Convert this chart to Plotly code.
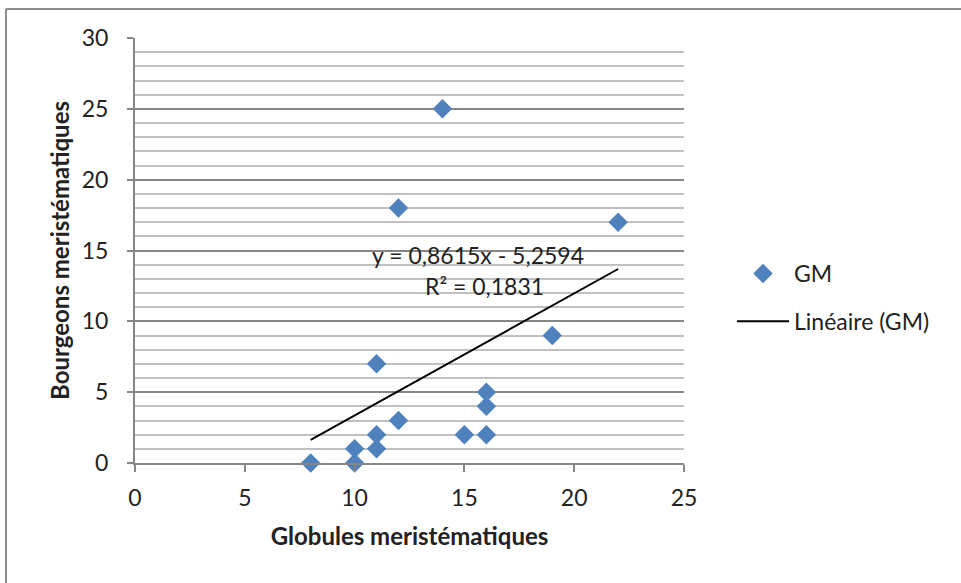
import numpy as np
import plotly.graph_objects as go

# Data
globules = [8, 10, 10, 11, 11, 11, 12, 12, 14, 15, 16, 16, 16, 19, 22]
bourgeons = [0, 0, 1, 1, 2, 7, 3, 18, 25, 2, 2, 4, 5, 9, 17]
x_ticks = [0, 5, 10, 15, 20, 25]
y_ticks = [0, 5, 10, 15, 20, 25, 30]
eq_text = "y = 0,8615x - 5,2594"
r2_text = "R² = 0,1831"

slope, intercept = np.polyfit(globules, bourgeons, 1)
tx = [min(globules), max(globules)]
ty = [slope * v + intercept for v in tx]

FONT = "Lato, 'Noto Sans', sans-serif"
FS = 23

fig = go.Figure()
fig.add_trace(go.Scatter(
    x=globules, y=bourgeons, mode="markers", name="GM",
    marker=dict(symbol="diamond", size=15, color="#4F81BD"),
    legendgroup="a", cliponaxis=False,
))
fig.add_trace(go.Scatter(
    x=tx, y=ty, mode="lines", name="Linéaire (GM)",
    line=dict(color="black", width=2), legendgroup="b",
))

fig.add_annotation(x=15.62, y=14.7, text=eq_text, showarrow=False,
                   font=dict(size=FS, color="#222", family=FONT))
fig.add_annotation(x=15.9, y=12.5, text=r2_text, showarrow=False,
                   font=dict(size=FS, color="#222", family=FONT))

L, R, T, B = 135, 684, 38, 463
W, H = 961, 583
pw, ph = R - L, B - T
def px(p):
    return (p - L) / pw
def py(p):
    return (B - p) / ph

# outer chart border (top and left visible)
fig.add_shape(type="line", xref="paper", yref="paper",
              x0=px(6), x1=px(961), y0=py(9), y1=py(9),
              line=dict(color="#8c8c8c", width=2))
fig.add_shape(type="line", xref="paper", yref="paper",
              x0=px(6), x1=px(6), y0=py(9), y1=py(583),
              line=dict(color="#8c8c8c", width=2))

fig.update_layout(
    width=W, height=H,
    margin=dict(l=L, r=W - R, t=T, b=H - B),
    paper_bgcolor="white", plot_bgcolor="white",
    font=dict(family=FONT, size=FS, color="#222"),
    showlegend=True,
    legend=dict(x=px(732), y=py(252), xanchor="left", yanchor="top",
                font=dict(size=FS, family=FONT, color="#222"),
                tracegroupgap=15, itemwidth=52, bgcolor="rgba(0,0,0,0)"),
    xaxis=dict(
        range=[0, 25], tickvals=x_ticks, showgrid=False, zeroline=False,
        showline=True, linecolor="#868686", linewidth=2,
        ticks="outside", ticklen=7, tickcolor="#868686", tickwidth=2,
        ticklabelstandoff=6, tickfont=dict(size=FS),
        title=dict(text="<b>Globules meristématiques</b>", standoff=19,
                   font=dict(size=FS + 1)),
    ),
    yaxis=dict(
        range=[0, 30], tickvals=y_ticks, showgrid=True, gridcolor="#868686",
        gridwidth=2, zeroline=False, showline=True, linecolor="#868686",
        linewidth=2, ticks="outside", ticklen=6, tickcolor="#868686",
        tickwidth=2, ticklabelstandoff=14, tickfont=dict(size=FS),
        minor=dict(dtick=1, showgrid=True, gridcolor="#c0c0c0", gridwidth=2,
                   ticks=""),
        title=dict(text="<b>Bourgeons meristématiques</b>", standoff=5,
                   font=dict(size=FS + 1)),
    ),
)

fig.write_html("out.html")
